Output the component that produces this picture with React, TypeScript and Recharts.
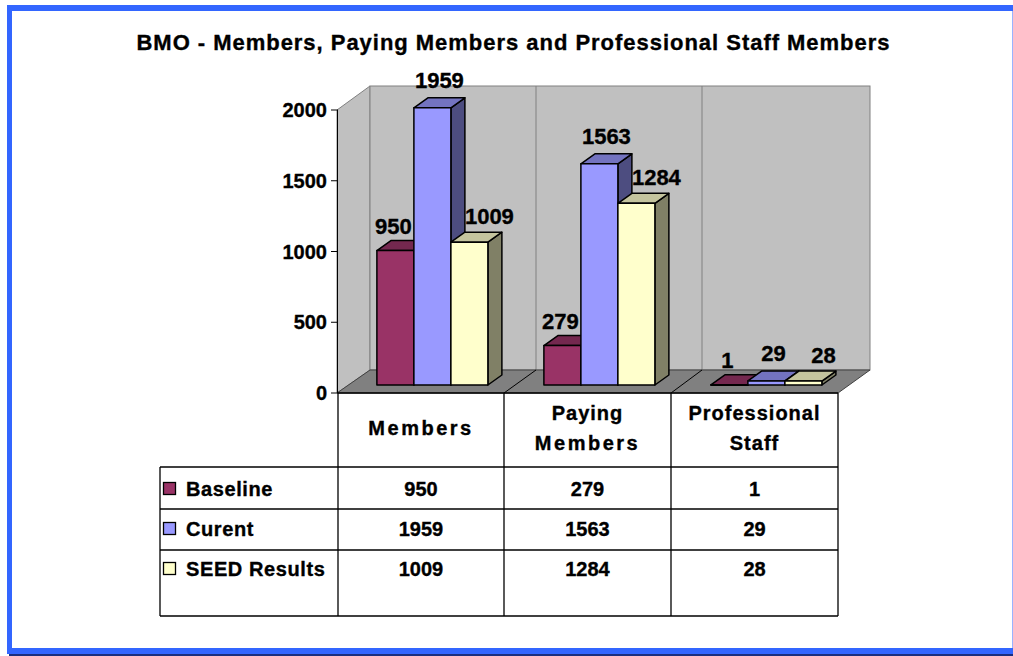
import React from 'react';
import { BarChart, Bar, XAxis, YAxis, LabelList } from 'recharts';

// values
const categories = ['Members', 'Paying Members', 'Professional Staff'];
const baseline = [950, 279, 1];
const current = [1959, 1563, 29];
const seedResults = [1009, 1284, 28];
const seriesNames = ['Baseline', 'Curent', 'SEED Results'];
const yTicks = [0, 500, 1000, 1500, 2000];

const data = categories.map((name, i) => ({
    name,
    baseline: baseline[i],
    current: current[i],
    seed: seedResults[i],
}));

const FONT = '"Liberation Sans", Arial, Helvetica, sans-serif';

interface Shade {
    front: string;
    top: string;
    side: string;
}

const shades: Shade[] = [
    { front: '#993366', top: '#74284f', side: '#4d1a33' },
    { front: '#9999ff', top: '#7373c0', side: '#4d4d80' },
    { front: '#ffffcc', top: '#c4c49e', side: '#808066' },
];
const seriesRows = [baseline, current, seedResults];

// depth of a bar and offset of the front axis plane
const BAR_DX = 14;
const BAR_DY = 10;
const FRONT_DY = 8;

// a little outline makes the text as heavy as the original
const heavy = { stroke: '#000', strokeWidth: 0.35 };

const make3DBar = (c: Shade) => (props: any) => {
    const { x, y, width, height } = props;
    if (x == null || y == null) return <g />;
    const r = x + width;
    const b = y + height;
    return (
        <g stroke="#000" strokeWidth={1.5} strokeLinejoin="round">
            <polygon points={`${r},${y} ${r + BAR_DX},${y - BAR_DY} ${r + BAR_DX},${b - BAR_DY} ${r},${b}`} fill={c.side} />
            <polygon points={`${x},${y} ${x + BAR_DX},${y - BAR_DY} ${r + BAR_DX},${y - BAR_DY} ${r},${y}`} fill={c.top} />
            <rect x={x} y={y} width={width} height={Math.max(height, 0.5)} fill={c.front} />
        </g>
    );
};

const makeLabel = (shift: number, lift: number) => (props: any) => {
    const { x, y, width, value } = props;
    if (x == null) return null;
    return (
        <text
            x={x + width / 2 + shift}
            y={y - lift}
            textAnchor="middle"
            fontFamily={FONT}
            fontWeight="bold"
            fontSize={22}
            fill="#000"
            {...heavy}
        >
            {value}
        </text>
    );
};

const FrontTick = (props: any) => {
    const { y, payload } = props;
    const yy = y + FRONT_DY;
    return (
        <g>
            <line x1={331} x2={338} y1={yy} y2={yy} stroke="#000" strokeWidth={1} />
            <text
                x={327}
                y={yy}
                textAnchor="end"
                dominantBaseline="central"
                fontFamily={FONT}
                fontWeight="bold"
                fontSize={20}
                fill="#000"
                {...heavy}
            >
                {payload.value}
            </text>
        </g>
    );
};

// table layout
const colX = [338, 504, 671, 838];
const rowLines = [467, 509, 550];
const rowTextY = [489, 529, 569];
const TABLE_LEFT = 160;
const TABLE_BOTTOM = 616;

const Background = () => (
    <svg width={1013} height={656} style={{ position: 'absolute', left: 0, top: 0 }}>
        {/* frame */}
        <rect x={9} y={7} width={1004} height={649} fill="#1a2f80" />
        <rect x={7} y={5} width={1006} height={649} fill="#3366ff" />
        <rect x={12} y={11} width={1000} height={637} fill="#ffffff" />
        <line x1={1012.5} y1={11} x2={1012.5} y2={648} stroke="#99b3ff" strokeWidth={1} />

        <text
            x={513}
            y={50}
            textAnchor="middle"
            fontFamily={FONT}
            fontWeight="bold"
            fontSize={22}
            textLength={753}
            lengthAdjust="spacing"
            fill="#000"
            {...heavy}
        >
            BMO - Members, Paying Members and Professional Staff Members
        </text>

        {/* walls and floor */}
        <polygon points="337,110 370,86 370,370 337,393" fill="#c0c0c0" stroke="#808080" strokeWidth={1} />
        <rect x={370} y={86} width={500} height={284} fill="#c0c0c0" stroke="#808080" strokeWidth={1} />
        <line x1={536} y1={86} x2={536} y2={370} stroke="#808080" strokeWidth={1} />
        <line x1={702} y1={86} x2={702} y2={370} stroke="#808080" strokeWidth={1} />
        <polygon points="337,393 838,393 870,370 370,370" fill="#808080" stroke="#404040" strokeWidth={1} />
        <line x1={504} y1={393} x2={536} y2={370} stroke="#000" strokeWidth={1} />
        <line x1={671} y1={393} x2={702} y2={370} stroke="#000" strokeWidth={1} />
        <line x1={337.5} y1={110} x2={337.5} y2={393} stroke="#000" strokeWidth={1} />

        {/* data table */}
        <g stroke="#000" strokeWidth={1.3}>
            <line x1={colX[0]} y1={393} x2={colX[3]} y2={393} />
            {colX.map((x) => (
                <line key={x} x1={x} y1={393} x2={x} y2={TABLE_BOTTOM} />
            ))}
            <line x1={TABLE_LEFT} y1={rowLines[0]} x2={TABLE_LEFT} y2={TABLE_BOTTOM} />
            {rowLines.map((y) => (
                <line key={y} x1={TABLE_LEFT} y1={y} x2={colX[3]} y2={y} />
            ))}
            <line x1={TABLE_LEFT} y1={TABLE_BOTTOM} x2={colX[3]} y2={TABLE_BOTTOM} />
        </g>
        {categories.map((c, i) => {
            const words = c.split(' ');
            const cx = (colX[i] + colX[i + 1]) / 2;
            const ys = words.length === 1 ? [428] : [413, 443];
            return words.map((w, j) => (
                <text
                    key={`${c}-${j}`}
                    x={cx}
                    y={ys[j]}
                    textAnchor="middle"
                    dominantBaseline="central"
                    fontFamily={FONT}
                    fontWeight="bold"
                    fontSize={20}
                    letterSpacing={w === 'Members' ? 2.5 : 1}
                    fill="#000"
                    {...heavy}
                >
                    {w}
                </text>
            ));
        })}
        {seriesNames.map((s, r) => (
            <g key={s}>
                <rect x={163.5} y={rowTextY[r] - 6.5} width={12} height={12} fill={shades[r].front} stroke="#000" strokeWidth={1.3} />
                <text
                    x={186}
                    y={rowTextY[r]}
                    dominantBaseline="central"
                    fontFamily={FONT}
                    fontWeight="bold"
                    fontSize={20}
                    letterSpacing={0.6}
                    fill="#000"
                    {...heavy}
                >
                    {s}
                </text>
                {seriesRows[r].map((v, i) => (
                    <text
                        key={i}
                        x={(colX[i] + colX[i + 1]) / 2}
                        y={rowTextY[r]}
                        textAnchor="middle"
                        dominantBaseline="central"
                        fontFamily={FONT}
                        fontWeight="bold"
                        fontSize={20}
                        fill="#000"
                        {...heavy}
                    >
                        {v}
                    </text>
                ))}
            </g>
        ))}
    </svg>
);

export default function App() {
    return (
        <div style={{ position: 'absolute', left: 0, top: 0, width: 1013, height: 656, background: '#fff' }}>
            <Background />
            <div style={{ position: 'absolute', left: 0, top: 0 }}>
                <BarChart
                    width={1013}
                    height={656}
                    data={data}
                    margin={{ top: 102, right: 163.5, bottom: 271, left: 288.5 }}
                    barCategoryGap="17%"
                    barGap={0}
                >
                    <XAxis dataKey="name" hide />
                    <YAxis
                        width={60}
                        domain={[0, 2000]}
                        ticks={yTicks}
                        interval={0}
                        axisLine={false}
                        tickLine={false}
                        tick={<FrontTick />}
                    />
                    <Bar dataKey="baseline" shape={make3DBar(shades[0])} isAnimationActive={false}>
                        <LabelList dataKey="baseline" content={makeLabel(-2, 17)} />
                    </Bar>
                    <Bar dataKey="current" shape={make3DBar(shades[1])} isAnimationActive={false}>
                        <LabelList dataKey="current" content={makeLabel(7, 20)} />
                    </Bar>
                    <Bar dataKey="seed" shape={make3DBar(shades[2])} isAnimationActive={false}>
                        <LabelList dataKey="seed" content={makeLabel(20, 18)} />
                    </Bar>
                </BarChart>
            </div>
        </div>
    );
}
